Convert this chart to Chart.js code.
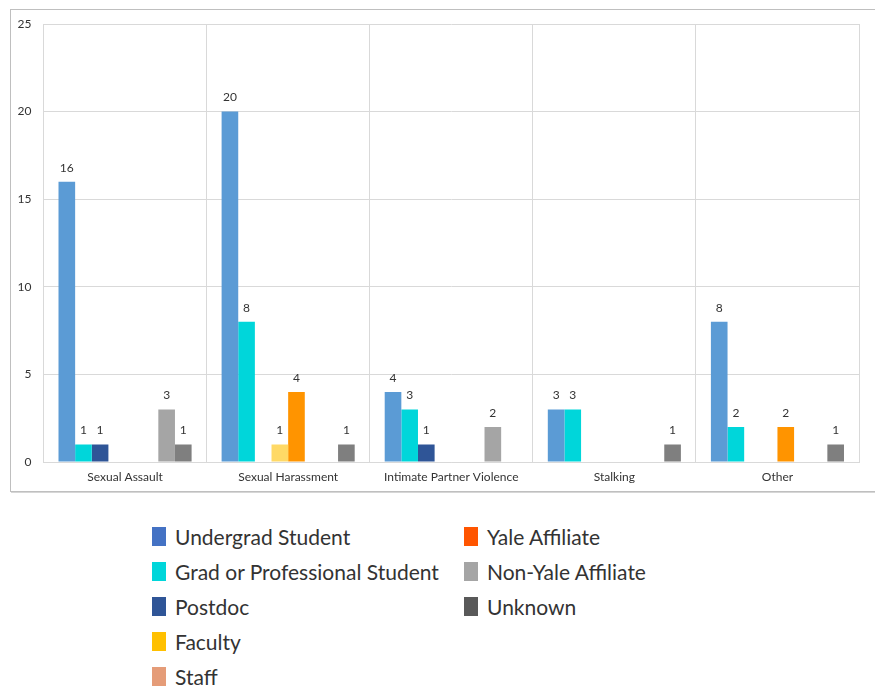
<!DOCTYPE html>
<html>
<head>
<meta charset="utf-8">
<title>Reports by Complainant Affiliation</title>
<script src="https://cdn.jsdelivr.net/npm/chart.js@4"></script>
<style>
  body { margin: 0; background: #fff; font-family: Lato, 'Open Sans', sans-serif; }
  #chart-box {
    position: absolute; left: 10px; top: 9px;
    width: 864px; height: 481px;
    border: 1px solid #bfbfbf;
    box-shadow: 1px 1px 0 #d6d6d6;
  }
  #legend {
    position: absolute; left: 152px; top: 519px;
    display: grid; grid-template-rows: repeat(5, 35px); grid-auto-flow: column;
    grid-template-columns: 312px 240px;
    color: #333; font-size: 21px;
  }
  .item { display: flex; align-items: center; white-space: nowrap; }
  .swatch { width: 14px; height: 19px; margin-right: 9px; flex: none; }
</style>
</head>
<body>
<div id="chart-box"><canvas id="my-chart" width="864" height="481"></canvas></div>
<div id="legend"></div>

<script>
'use strict';

// ************* Data **************
let categories = ['Sexual Assault', 'Sexual Harassment', 'Intimate Partner Violence', 'Stalking', 'Other'];
let seriesNames = ['Undergrad Student', 'Grad or Professional Student', 'Postdoc', 'Faculty', 'Staff', 'Yale Affiliate', 'Non-Yale Affiliate', 'Unknown'];

let undergrad = [16, 20, 4, 3, 8];
let gradStudent = [1, 8, 3, 3, 2];
let postdoc = [1, 0, 1, 0, 0];
let faculty = [0, 1, 0, 0, 0];
let staff = [0, 4, 0, 0, 2];
let yaleAffiliate = [0, 0, 0, 0, 0];
let nonYale = [3, 0, 2, 0, 0];
let unknown = [1, 1, 0, 1, 1];

let yTicks = [0, 5, 10, 15, 20, 25];

// bar fill vs. legend swatch colours
let barColors = ['#5b9bd5', '#00d6da', '#2f5597', '#ffd966', '#ff9400', '#ff5500', '#a5a5a5', '#7f7f7f'];
let swatchColors = ['#4472c4', '#00d6da', '#2f5597', '#ffc000', '#e59c78', '#ff5500', '#a5a5a5', '#595959'];

let allSeries = [undergrad, gradStudent, postdoc, faculty, staff, yaleAffiliate, nonYale, unknown];

// ************** Value labels *************
let valueLabels = {
  id: 'valueLabels',
  afterDatasetsDraw(chart) {
    let ctx = chart.ctx;
    ctx.save();
    ctx.font = '12px Lato, sans-serif';
    ctx.fillStyle = '#333';
    ctx.textAlign = 'center';
    ctx.textBaseline = 'bottom';
    chart.data.datasets.forEach((ds, i) => {
      chart.getDatasetMeta(i).data.forEach((bar, j) => {
        let v = ds.data[j];
        if (v) {
          ctx.fillText(v, bar.x, bar.y - 8);
        }
      });
    });
    ctx.restore();
  }
};

// ************** Chart *************
let datasets = [];
for (let i = 0; i < seriesNames.length; i++) {
  datasets.push({
    label: seriesNames[i],
    data: allSeries[i],
    backgroundColor: barColors[i],
    borderWidth: 0,
    categoryPercentage: 0.816,
    barPercentage: 1
  });
}

new Chart(document.getElementById('my-chart'), {
  type: 'bar',
  data: { labels: categories, datasets: datasets },
  options: {
    responsive: false,
    animation: false,
    layout: { padding: { left: 0, right: 16, top: 14, bottom: 0 } },
    plugins: { legend: { display: false }, tooltip: { enabled: false } },
    scales: {
      x: {
        afterFit(axis) { axis.height = 29; },
        grid: { color: '#d9d9d9', drawTicks: false },
        border: { color: '#d9d9d9' },
        ticks: { color: '#333', font: { family: 'Lato', size: 12 }, padding: 8 }
      },
      y: {
        min: 0,
        max: 25,
        afterBuildTicks(axis) { axis.ticks = yTicks.map(v => ({ value: v })); },
        afterFit(axis) {
          axis.width = 32.5;
          axis.paddingTop = 0;
          axis.paddingBottom = 0;
        },
        grid: { color: '#d9d9d9', drawTicks: false },
        border: { color: '#d9d9d9' },
        ticks: { color: '#333', font: { family: 'Lato', size: 12 }, padding: 12 }
      }
    }
  },
  plugins: [valueLabels]
});

// ************** Legend *************
let legendElem = document.getElementById('legend');
for (let i = 0; i < seriesNames.length; i++) {
  let item = document.createElement('div');
  item.className = 'item';
  let sw = document.createElement('span');
  sw.className = 'swatch';
  sw.style.background = swatchColors[i];
  let txt = document.createElement('span');
  txt.textContent = seriesNames[i];
  item.appendChild(sw);
  item.appendChild(txt);
  legendElem.appendChild(item);
}
</script>
</body>
</html>
